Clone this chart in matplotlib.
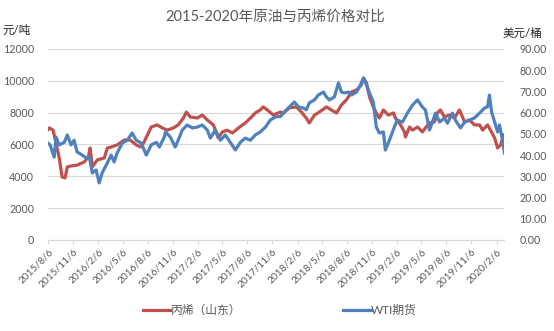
import pandas as pd
import matplotlib.pyplot as plt
from matplotlib.ticker import FuncFormatter, MultipleLocator

plt.rcParams['font.family'] = ['Lato', 'Noto Sans CJK SC', 'DejaVu Sans']

# propylene (Shandong), yuan/ton
propylene_dates = [
    '2015-08-06', '2015-08-10', '2015-08-24', '2015-09-15', '2015-09-26', '2015-10-07',
    '2015-10-15', '2015-10-29', '2015-11-20', '2015-12-16', '2015-12-31', '2016-01-07',
    '2016-01-15', '2016-02-02', '2016-02-28', '2016-03-10', '2016-03-24', '2016-04-15',
    '2016-05-11', '2016-06-02', '2016-06-24', '2016-07-12', '2016-07-23', '2016-08-18',
    '2016-09-09', '2016-09-28', '2016-10-16', '2016-11-07', '2016-11-25', '2016-12-14',
    '2016-12-25', '2017-01-08', '2017-02-03', '2017-02-21', '2017-03-12', '2017-04-03',
    '2017-04-21', '2017-05-06', '2017-05-24', '2017-06-12', '2017-07-04', '2017-07-29',
    '2017-08-17', '2017-09-04', '2017-09-22', '2017-10-03', '2017-10-18', '2017-11-09',
    '2017-12-05', '2017-12-16', '2018-01-07', '2018-02-02', '2018-02-20', '2018-03-10',
    '2018-03-21', '2018-04-09', '2018-04-27', '2018-05-23', '2018-06-10', '2018-06-29',
    '2018-07-17', '2018-08-04', '2018-08-23', '2018-09-10', '2018-09-28', '2018-10-06',
    '2018-10-17', '2018-10-28', '2018-11-11', '2018-11-22', '2018-12-03', '2018-12-18',
    '2019-01-05', '2019-01-24', '2019-01-31', '2019-02-19', '2019-03-05', '2019-03-09',
    '2019-03-24', '2019-04-04', '2019-04-22', '2019-05-10', '2019-05-21', '2019-06-05',
    '2019-06-23', '2019-07-04', '2019-07-15', '2019-07-30', '2019-08-17', '2019-09-05',
    '2019-09-23', '2019-10-12', '2019-10-30', '2019-11-17', '2019-12-06', '2019-12-17',
    '2020-01-04', '2020-01-15', '2020-01-30', '2020-02-10', '2020-02-21', '2020-03-03',
]
propylene_values = [
    6950, 7040, 6900, 5200, 3960, 3900,
    4590, 4650, 4700, 4900, 5200, 5780,
    4590, 5030, 5150, 5780, 5840, 5970,
    6280, 6280, 5970, 5840, 6160, 7100,
    7230, 7040, 6900, 7040, 7230, 7660,
    8040, 7730, 7660, 7850, 7540, 7230,
    6410, 6790, 6900, 6720, 7040, 7350,
    7660, 7980, 8170, 8360, 8170, 7850,
    8040, 7980, 8300, 8360, 8040, 7660,
    7350, 7850, 8040, 8360, 8170, 7980,
    8480, 8800, 9300, 9420, 9740, 10180,
    9860, 8990, 8360, 7980, 7660, 8170,
    7850, 7980, 7660, 7230, 6790, 6470,
    7100, 6900, 7100, 6790, 7040, 7350,
    7410, 7980, 8170, 7730, 7850, 7660,
    8170, 7410, 7540, 7230, 7230, 6900,
    7230, 6900, 6410, 5780, 5970, 6600,
]

# WTI futures, USD/barrel
wti_dates = [
    '2015-08-06', '2015-08-13', '2015-08-28', '2015-09-04', '2015-09-15', '2015-10-04',
    '2015-10-15', '2015-10-29', '2015-11-09', '2015-11-20', '2015-12-09', '2015-12-24',
    '2016-01-04', '2016-01-15', '2016-01-29', '2016-02-09', '2016-02-20', '2016-03-10',
    '2016-03-24', '2016-04-04', '2016-04-15', '2016-05-04', '2016-05-22', '2016-06-09',
    '2016-06-24', '2016-07-12', '2016-07-31', '2016-08-18', '2016-09-06', '2016-09-17',
    '2016-10-05', '2016-10-09', '2016-10-27', '2016-11-14', '2016-11-25', '2016-12-10',
    '2016-12-28', '2017-01-16', '2017-02-03', '2017-02-21', '2017-03-12', '2017-03-23',
    '2017-04-10', '2017-04-29', '2017-05-17', '2017-06-04', '2017-06-23', '2017-07-11',
    '2017-07-29', '2017-08-17', '2017-09-04', '2017-09-22', '2017-10-11', '2017-10-29',
    '2017-11-17', '2017-12-05', '2017-12-27', '2018-01-14', '2018-01-25', '2018-02-09',
    '2018-02-27', '2018-03-10', '2018-03-21', '2018-04-09', '2018-04-23', '2018-05-12',
    '2018-05-23', '2018-06-03', '2018-06-21', '2018-07-06', '2018-07-17', '2018-07-28',
    '2018-08-12', '2018-08-23', '2018-09-10', '2018-09-21', '2018-10-06', '2018-10-17',
    '2018-10-28', '2018-11-11', '2018-11-22', '2018-12-03', '2018-12-18', '2018-12-25',
    '2019-01-09', '2019-01-27', '2019-02-07', '2019-02-26', '2019-03-16', '2019-04-04',
    '2019-04-22', '2019-05-10', '2019-05-21', '2019-06-05', '2019-06-16', '2019-06-27',
    '2019-07-12', '2019-07-30', '2019-08-10', '2019-08-28', '2019-09-08', '2019-09-27',
    '2019-10-12', '2019-10-30', '2019-11-17', '2019-12-06', '2019-12-24', '2020-01-04',
    '2020-01-11', '2020-01-19', '2020-01-30', '2020-02-10', '2020-02-17', '2020-02-28',
    '2020-03-06',
]
wti_values = [
    45.5, 44.8, 39.0, 48.5, 44.8, 46.0,
    49.5, 44.8, 47.0, 41.5, 40.0, 38.6,
    39.0, 31.6, 33.0, 26.9, 31.6, 36.3,
    40.0, 36.8, 41.0, 45.7, 47.0, 50.4,
    47.0, 45.7, 40.0, 44.8, 46.0, 43.8,
    48.5, 50.9, 48.5, 43.8, 47.0, 51.8,
    54.2, 52.8, 53.2, 54.2, 51.8, 48.0,
    51.8, 47.0, 49.5, 46.0, 42.4, 46.0,
    48.0, 47.0, 49.5, 50.9, 53.2, 56.5,
    58.0, 58.2, 61.3, 63.6, 65.0, 62.7,
    62.2, 61.3, 64.6, 66.0, 68.3, 69.7,
    67.4, 66.0, 67.4, 74.0, 69.7, 69.3,
    69.7, 68.3, 69.7, 72.0, 76.3, 73.0,
    69.3, 65.0, 53.2, 50.4, 50.9, 42.4,
    47.0, 53.2, 56.5, 55.6, 59.8, 63.6,
    66.0, 62.7, 61.3, 51.8, 55.6, 59.8,
    55.6, 57.5, 55.0, 59.8, 56.5, 52.8,
    55.6, 56.5, 57.5, 59.8, 62.2, 62.7,
    68.3, 60.3, 55.6, 50.9, 54.2, 47.0,
    41.0,
]

tick_labels = [
    '2015/8/6', '2015/11/6', '2016/2/6', '2016/5/6', '2016/8/6', '2016/11/6',
    '2017/2/6', '2017/5/6', '2017/8/6', '2017/11/6', '2018/2/6', '2018/5/6',
    '2018/8/6', '2018/11/6', '2019/2/6', '2019/5/6', '2019/8/6', '2019/11/6',
    '2020/2/6',
]

grey = '#595959'
red = '#C0504D'
blue = '#4F81BD'

fig = plt.figure(figsize=(5.54, 3.31), dpi=100)
ax = fig.add_axes([0.087, 0.275, 0.823, 0.577])
ax2 = ax.twinx()

ax.plot(pd.to_datetime(propylene_dates), propylene_values, color=red, lw=2.3,
        label='丙烯（山东）', solid_joinstyle='round')
ax2.plot(pd.to_datetime(wti_dates), wti_values, color=blue, lw=2.3,
         label='WTI期货', solid_joinstyle='round')

ax.set_ylim(0, 12000)
ax.yaxis.set_major_locator(MultipleLocator(2000))
ax2.set_ylim(0, 90)
ax2.yaxis.set_major_locator(MultipleLocator(10))
ax2.yaxis.set_major_formatter(FuncFormatter(lambda v, p: f'{v:.2f}'))

ax.set_xlim(pd.Timestamp('2015-08-06'), pd.Timestamp('2020-03-05'))
ticks = pd.to_datetime([t.replace('/', '-') for t in tick_labels])
ax.set_xticks(ticks)
ax.set_xticklabels(tick_labels, rotation=45, ha='right', rotation_mode='anchor')

ax.grid(axis='y', color='#D9D9D9', lw=0.8)
ax.set_axisbelow(True)
for a in (ax, ax2):
    for s in a.spines.values():
        s.set_visible(False)
ax.spines['bottom'].set_visible(True)
ax.spines['bottom'].set_color('#D9D9D9')

ax.tick_params(axis='y', length=0, labelsize=7.7, labelcolor=grey, pad=10)
ax2.tick_params(axis='y', length=0, labelsize=7.7, labelcolor=grey, pad=11)
ax.tick_params(axis='x', length=3, color='#D9D9D9', labelsize=7.3, labelcolor=grey, pad=2)

fig.text(0.497, 0.95, '2015-2020年原油与丙烯价格对比', ha='center', va='center',
         fontsize=10.5, color=grey)
fig.text(0.005, 0.91, '元/吨', ha='left', va='center', fontsize=8.3, color='#262626')
fig.text(0.908, 0.9, '美元/桶', ha='left', va='center', fontsize=8.3, color='#262626')

h1, l1 = ax.get_legend_handles_labels()
h2, l2 = ax2.get_legend_handles_labels()
fig.legend(h1 + h2, l1 + l2, loc='center', bbox_to_anchor=(0.505, 0.063), ncol=2,
           frameon=False, fontsize=8.5, labelcolor=grey, handlelength=2.3,
           handletextpad=0.05, columnspacing=8.7)

fig.savefig('out.png', dpi=100)
